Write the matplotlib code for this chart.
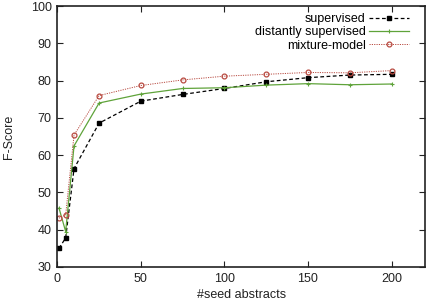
import matplotlib
matplotlib.use("Agg")
import matplotlib.pyplot as plt

plt.rcParams["font.family"] = ["Liberation Sans", "DejaVu Sans"]

seeds = [1, 5, 10, 25, 50, 75, 100, 125, 150, 175, 200]
supervised = [35.0, 37.8, 56.4, 68.6, 74.5, 76.3, 77.9, 79.7, 80.8, 81.5, 81.7]
distant = [45.8, 39.5, 62.5, 74.0, 76.4, 77.9, 78.1, 78.8, 79.2, 78.9, 79.1]
mixture = [43.1, 44.0, 65.4, 76.0, 78.7, 80.2, 81.2, 81.7, 82.2, 82.1, 82.7]

x_ticks = [0, 50, 100, 150, 200]
y_ticks = [30, 40, 50, 60, 70, 80, 90, 100]

fig = plt.figure(figsize=(4.31, 3.06), dpi=100)
ax = fig.add_axes([0.133, 0.1275, 0.853, 0.8525])

ax.plot(seeds, supervised, color="black", linestyle=(0, (3, 2)), linewidth=0.9,
        marker="s", markersize=2.5, label="supervised")
ax.plot(seeds, distant, color="#5fa33a", linestyle="-", linewidth=0.9,
        marker="+", markersize=3.5, markeredgewidth=0.8, label="distantly supervised")
ax.plot(seeds, mixture, color="#b84a40", linestyle=(0, (1.2, 1.2)), linewidth=0.7,
        marker="o", markersize=3.5, markerfacecolor="none", markeredgewidth=0.9,
        label="mixture-model")

ax.set_xlim(0, 220)
ax.set_ylim(30, 100)
ax.set_xticks(x_ticks)
ax.set_yticks(y_ticks)
ax.tick_params(direction="in", length=4, width=0.8, top=True, right=True,
               labelsize=9, colors="#222222", pad=4)
for s in ax.spines.values():
    s.set_linewidth(1.2)
    s.set_color("#222222")

ax.set_xlabel("#seed abstracts", fontsize=9, labelpad=3, color="#222222")
ax.set_ylabel("F-Score", fontsize=9, labelpad=11, color="#222222")

leg = ax.legend(loc="upper right", bbox_to_anchor=(0.97, 0.992), frameon=False,
                markerfirst=False, fontsize=9, handlelength=3.2, handletextpad=0.25,
                labelspacing=0.1, borderaxespad=0.0)
for t in leg.get_texts():
    t.set_ha("right")
leg._legend_box.align = "right"

fig.savefig("out.png", dpi=100)
